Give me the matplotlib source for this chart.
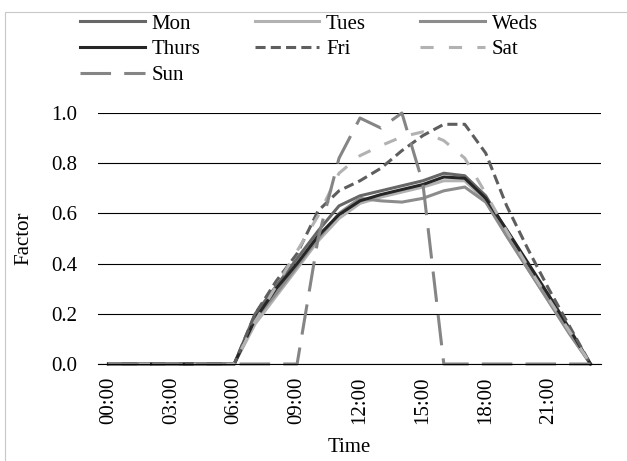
import numpy as np
import matplotlib
matplotlib.use("Agg")
import matplotlib.pyplot as plt
from matplotlib.patches import Rectangle

plt.rcParams['font.family'] = ['Liberation Serif', 'DejaVu Serif']

# hourly factors, 00:00 .. 23:00
hours = np.arange(24)
tick_hours = [0, 3, 6, 9, 12, 15, 18, 21]
tick_labels = ['00:00', '03:00', '06:00', '09:00', '12:00', '15:00', '18:00', '21:00']

mon = [0, 0, 0, 0, 0, 0, 0, 0.20, 0.31, 0.42, 0.53, 0.63, 0.67, 0.69, 0.71, 0.73,
       0.76, 0.75, 0.67, 0.53, 0.40, 0.27, 0.13, 0]
tues = [0, 0, 0, 0, 0, 0, 0, 0.16, 0.27, 0.38, 0.49, 0.58, 0.64, 0.665, 0.685, 0.705,
        0.73, 0.73, 0.65, 0.51, 0.38, 0.25, 0.12, 0]
weds = [0, 0, 0, 0, 0, 0, 0, 0.18, 0.28, 0.39, 0.50, 0.60, 0.66, 0.65, 0.645, 0.66,
        0.69, 0.705, 0.645, 0.51, 0.38, 0.25, 0.12, 0]
thurs = [0, 0, 0, 0, 0, 0, 0, 0.18, 0.30, 0.40, 0.51, 0.595, 0.65, 0.675, 0.695, 0.715,
         0.745, 0.74, 0.66, 0.535, 0.405, 0.275, 0.14, 0]
fri = [0, 0, 0, 0, 0, 0, 0, 0.20, 0.33, 0.44, 0.61, 0.69, 0.73, 0.78, 0.85, 0.91,
       0.955, 0.955, 0.84, 0.63, 0.46, 0.30, 0.15, 0]
sat = [0, 0, 0, 0, 0, 0, 0, 0.17, 0.31, 0.45, 0.59, 0.76, 0.83, 0.87, 0.905, 0.925,
       0.89, 0.82, 0.68, 0.53, 0.39, 0.26, 0.13, 0]
sun = [0, 0, 0, 0, 0, 0, 0, 0, 0, 0, 0.50, 0.82, 0.98, 0.94, 1.0, 0.72,
       0, 0, 0, 0, 0, 0, 0, 0]

fig = plt.figure(figsize=(6.27, 4.61), dpi=100)
ax = fig.add_axes([98 / 627, 1 - 364 / 461, 503 / 627, 251 / 461])

# chart border (only left and top visible)
fig.patches.append(Rectangle((5 / 627, -0.1), 1.2, 0.1 + 1 - 12 / 461,
                             transform=fig.transFigure, fill=False,
                             edgecolor='#c8c8c8', lw=0.8))

lw = 2.2
lines = {}
lines['Mon'], = ax.plot(hours, mon, color='#676767', lw=lw)
lines['Tues'], = ax.plot(hours, tues, color='#b2b2b2', lw=lw)
lines['Weds'], = ax.plot(hours, weds, color='#8c8c8c', lw=lw)
lines['Thurs'], = ax.plot(hours, thurs, color='#262626', lw=lw)
lines['Fri'], = ax.plot(hours, fri, color='#5e5e5e', lw=lw, dashes=(3.3, 1.7))
lines['Sat'], = ax.plot(hours, sat, color='#b2b2b2', lw=lw, dashes=(4.3, 5))
lines['Sun'], = ax.plot(hours, sun, color='#858585', lw=lw, dashes=(10, 4.3))
for ln in lines.values():
    ln.set_clip_on(False)
    ln.set_solid_joinstyle('round')
    ln.set_dash_capstyle('butt')

ax.set_xlim(-0.5, 23.5)
ax.set_ylim(0, 1.0)
ax.set_xticks(tick_hours)
ax.set_xticklabels(tick_labels, rotation=90, fontsize=15)
ax.set_yticks(np.arange(0, 1.01, 0.2))
ax.set_yticklabels(['%.1f' % v for v in np.arange(0, 1.01, 0.2)], fontsize=15)
ax.tick_params(axis='both', length=0)
ax.tick_params(axis='y', pad=15)
ax.tick_params(axis='x', pad=9)
ax.yaxis.grid(True, color='black', lw=0.8)
ax.set_axisbelow(True)
for s in ['left', 'right', 'top']:
    ax.spines[s].set_visible(False)
ax.spines['bottom'].set_color('black')
ax.spines['bottom'].set_linewidth(0.8)

fig.text(24 / 627, 1 - 238.5 / 461, 'Factor', rotation=90, ha='center', va='center', fontsize=15)
fig.text(349 / 627, 1 - 447 / 461, 'Time', ha='center', va='center', fontsize=15)

order = ['Mon', 'Thurs', 'Sun', 'Tues', 'Fri', 'Weds', 'Sat']
fig.legend([lines[k] for k in order], order, ncol=3, loc='upper left',
           bbox_to_anchor=(80 / 627, 1 - 14 / 461), frameon=False, fontsize=15,
           handlelength=3.1, handletextpad=0.33, columnspacing=2.6,
           labelspacing=0.3, borderpad=0, borderaxespad=0)

fig.savefig('out.png', dpi=100)
